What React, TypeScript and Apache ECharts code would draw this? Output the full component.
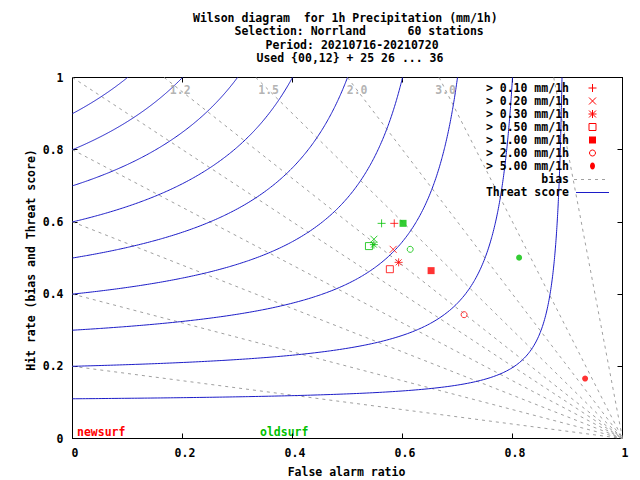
import React, { useEffect, useRef } from "react";
import * as echarts from "echarts";

const titleLines = [
  "Wilson diagram  for 1h Precipitation (mm/1h)",
  "Selection: Norrland      60 stations",
  "Period: 20210716-20210720",
  "Used {00,12} + 25 26 ... 36",
];
const thresholds = [
  "> 0.10 mm/1h",
  "> 0.20 mm/1h",
  "> 0.30 mm/1h",
  "> 0.50 mm/1h",
  "> 1.00 mm/1h",
  "> 2.00 mm/1h",
  "> 5.00 mm/1h",
];
const newsurfFAR = [0.585, 0.583, 0.593, 0.577, 0.652, 0.712, 0.932];
const newsurfHit = [0.596, 0.524, 0.488, 0.469, 0.465, 0.343, 0.166];
const oldsurfFAR = [0.562, 0.548, 0.548, 0.539, 0.601, 0.614, 0.812];
const oldsurfHit = [0.596, 0.552, 0.537, 0.533, 0.596, 0.524, 0.501];
const biasLevels = [0.2, 0.4, 0.6, 0.8, 1.0, 1.2, 1.5, 2.0, 3.0, 8.0];
const biasLabelLevels = [1.2, 1.5, 2.0, 3.0];
const threatLevels = [0.11, 0.2, 0.3, 0.4, 0.5, 0.6, 0.7, 0.8, 0.9];
const modelNames = ["newsurf", "oldsurf"];
const xLabel = "False alarm ratio";
const yLabel = "Hit rate (bias and Threat score)";

const RED = "#ff0000";
const GREEN = "#00c000";
const BLUE = "#1c1cc8";
const GREY = "#a0a0a0";
const FONT = "'DejaVu Sans Mono', 'Liberation Mono', monospace";
const FS = 11.5;

const symbolPaths = [
  "path://M4,0L4,8M0,4L8,4",
  "path://M0,0L8,8M0,8L8,0",
  "path://M4,0L4,8M0,4L8,4M1,1L7,7M1,7L7,1",
  "rect",
  "rect",
  "circle",
  "circle",
];
const symbolFilled = [false, false, false, false, true, false, true];
const symbolSizes = [8, 7, 8, 7, 7, 6, 6];

function threatCurve(ts: number): number[][] {
  const pts: number[][] = [];
  const N = 150;
  for (let k = 0; k <= N; k++) {
    const f = ((1 - ts) * k) / N;
    const h = 1 / (1 / ts + 1 - 1 / (1 - f));
    if (h > 0 && h <= 1.0001) pts.push([f, Math.min(h, 1)]);
  }
  for (let k = 0; k <= N; k++) {
    const h = ts + ((1 - ts) * k) / N;
    const f = 1 - 1 / (1 / ts + 1 - 1 / h);
    pts.push([Math.max(0, f), h]);
  }
  pts.sort((a, b) => a[0] - b[0]);
  return pts;
}

function biasLine(b: number): number[][] {
  const x0 = Math.max(0, 1 - 1 / b);
  const y0 = Math.min(1, b);
  return [
    [x0, y0],
    [1, 0],
  ];
}

const textStyle = (extra: any) => ({
  fontFamily: FONT,
  fontSize: FS,
  fontWeight: "bold",
  fill: "#000",
  ...extra,
});

function legendMarker(i: number, cx: number, cy: number, color: string): any[] {
  const ls = { stroke: color, lineWidth: 1 };
  const plus = [
    { type: "line", shape: { x1: cx - 4, y1: cy, x2: cx + 4, y2: cy }, style: ls },
    { type: "line", shape: { x1: cx, y1: cy - 4, x2: cx, y2: cy + 4 }, style: ls },
  ];
  const cross = [
    { type: "line", shape: { x1: cx - 3.5, y1: cy - 3.5, x2: cx + 3.5, y2: cy + 3.5 }, style: ls },
    { type: "line", shape: { x1: cx - 3.5, y1: cy + 3.5, x2: cx + 3.5, y2: cy - 3.5 }, style: ls },
  ];
  if (i === 0) return plus;
  if (i === 1) return cross;
  if (i === 2) return [...plus, ...cross];
  if (i === 3)
    return [{ type: "rect", shape: { x: cx - 3.5, y: cy - 3.5, width: 7, height: 7 }, style: { fill: "none", stroke: color, lineWidth: 1 } }];
  if (i === 4)
    return [{ type: "rect", shape: { x: cx - 3.5, y: cy - 3.5, width: 7, height: 7 }, style: { fill: color } }];
  if (i === 5)
    return [{ type: "circle", shape: { cx, cy, r: 3 }, style: { fill: "none", stroke: color, lineWidth: 1 } }];
  return [{ type: "ellipse", shape: { cx, cy, rx: 2.5, ry: 3.5 }, style: { fill: color } }];
}

export default function App() {
  const ref = useRef<HTMLDivElement>(null);
  useEffect(() => {
    if (!ref.current) return;
    const chart = echarts.init(ref.current, undefined, { renderer: "svg" });

    const series: any[] = [];
    biasLevels.forEach((b) => {
      series.push({
        type: "line",
        name: "bias",
        data: biasLine(b),
        symbol: "none",
        silent: true,
        z: 1,
        lineStyle: { color: GREY, width: 1, type: [3, 4] },
      });
    });
    threatLevels.forEach((t) => {
      series.push({
        type: "line",
        name: "Threat score",
        data: threatCurve(t),
        symbol: "none",
        silent: true,
        z: 2,
        lineStyle: { color: BLUE, width: 1 },
      });
    });
    series.push({
      type: "scatter",
      name: "bias labels",
      data: biasLabelLevels.map((b) => [1 - 0.965 / b, 0.965, b]),
      symbol: "circle",
      symbolSize: 1,
      itemStyle: { color: "rgba(0,0,0,0)" },
      z: 3,
      label: {
        show: true,
        position: "inside",
        formatter: (p: any) => p.value[2].toFixed(1),
        color: GREY,
        fontFamily: FONT,
        fontSize: FS,
        fontWeight: "bold",
      },
    });
    const models = [
      { far: newsurfFAR, hit: newsurfHit, color: RED },
      { far: oldsurfFAR, hit: oldsurfHit, color: GREEN },
    ];
    models.forEach((m, mi) => {
      thresholds.forEach((th, i) => {
        series.push({
          type: "scatter",
          name: modelNames[mi] + " " + th,
          data: [[m.far[i], m.hit[i]]],
          symbol: symbolPaths[i],
          symbolSize: symbolSizes[i],
          z: 5,
          itemStyle: symbolFilled[i]
            ? { color: m.color, borderWidth: 0 }
            : { color: "rgba(255,255,255,0)", borderColor: m.color, borderWidth: 1 },
        });
      });
    });

    const axisCommon = {
      type: "value",
      min: 0,
      max: 1,
      interval: 0.2,
      splitLine: { show: false },
      axisLine: { show: true, onZero: false, lineStyle: { color: "#000", width: 1 } },
      axisTick: { show: true, inside: true, length: 5, lineStyle: { color: "#000", width: 1 } },
    };
    const labelStyle = { color: "#000", fontFamily: FONT, fontSize: FS, fontWeight: "bold" };

    const graphics: any[] = [];
    const titleLeft = [193, 234.5, 265.5, 256.5];
    titleLines.forEach((t, i) => {
      graphics.push({
        type: "text",
        style: textStyle({ text: t, x: titleLeft[i], y: 18 + 13.4 * i, align: "left", verticalAlign: "middle", textAlign: "left", textVerticalAlign: "middle" }),
      });
    });
    graphics.push({
      type: "text",
      style: textStyle({ text: xLabel, x: 346.5, y: 471.5, align: "center", verticalAlign: "middle", textAlign: "center", textVerticalAlign: "middle" }),
    });
    graphics.push({
      type: "text",
      x: 31,
      y: 260,
      rotation: Math.PI / 2,
      style: textStyle({ text: yLabel, x: 0, y: 0, align: "center", verticalAlign: "middle", textAlign: "center", textVerticalAlign: "middle" }),
    });
    graphics.push({
      type: "text",
      style: textStyle({ text: modelNames[0], x: 77, y: 432, fill: RED, align: "left", verticalAlign: "middle", textAlign: "left", textVerticalAlign: "middle" }),
    });
    graphics.push({
      type: "text",
      style: textStyle({ text: modelNames[1], x: 260, y: 432, fill: GREEN, align: "left", verticalAlign: "middle", textAlign: "left", textVerticalAlign: "middle" }),
    });
    const legendTexts = [...thresholds, "bias", "Threat score"];
    legendTexts.forEach((t, i) => {
      const y = 88 + 13 * i;
      graphics.push({
        type: "text",
        z: 10,
        style: textStyle({ text: t, x: 569, y, align: "right", verticalAlign: "middle", textAlign: "right", textVerticalAlign: "middle" }),
      });
      if (i < thresholds.length) {
        legendMarker(i, 592.5, y, RED).forEach((g) => graphics.push({ ...g, z: 10 }));
      } else if (i === thresholds.length) {
        graphics.push({
          type: "line",
          z: 10,
          shape: { x1: 574, y1: y + 0.5, x2: 609, y2: y + 0.5 },
          style: { stroke: GREY, lineWidth: 1, lineDash: [3, 4] },
        });
      } else {
        graphics.push({
          type: "line",
          z: 10,
          shape: { x1: 576, y1: y + 0.5, x2: 609, y2: y + 0.5 },
          style: { stroke: BLUE, lineWidth: 1 },
        });
      }
    });

    chart.setOption({
      animation: false,
      backgroundColor: "#fff",
      grid: { left: 72.5, top: 77.5, width: 550, height: 361, containLabel: false },
      xAxis: [
        { ...axisCommon, position: "bottom", axisLabel: { ...labelStyle, margin: 8, padding: [0, 0, 0, 5] } },
        { ...axisCommon, position: "top", axisLabel: { show: false } },
      ],
      yAxis: [
        { ...axisCommon, position: "left", axisLabel: { ...labelStyle, margin: 9, padding: [3, 0, 0, 0] } },
        { ...axisCommon, position: "right", axisLabel: { show: false } },
      ],
      series,
      graphic: graphics,
    });
    return () => chart.dispose();
  }, []);
  return (
    <div
      ref={ref}
      style={{ position: "fixed", left: 0, top: 0, width: 640, height: 480, background: "#fff" }}
    />
  );
}
